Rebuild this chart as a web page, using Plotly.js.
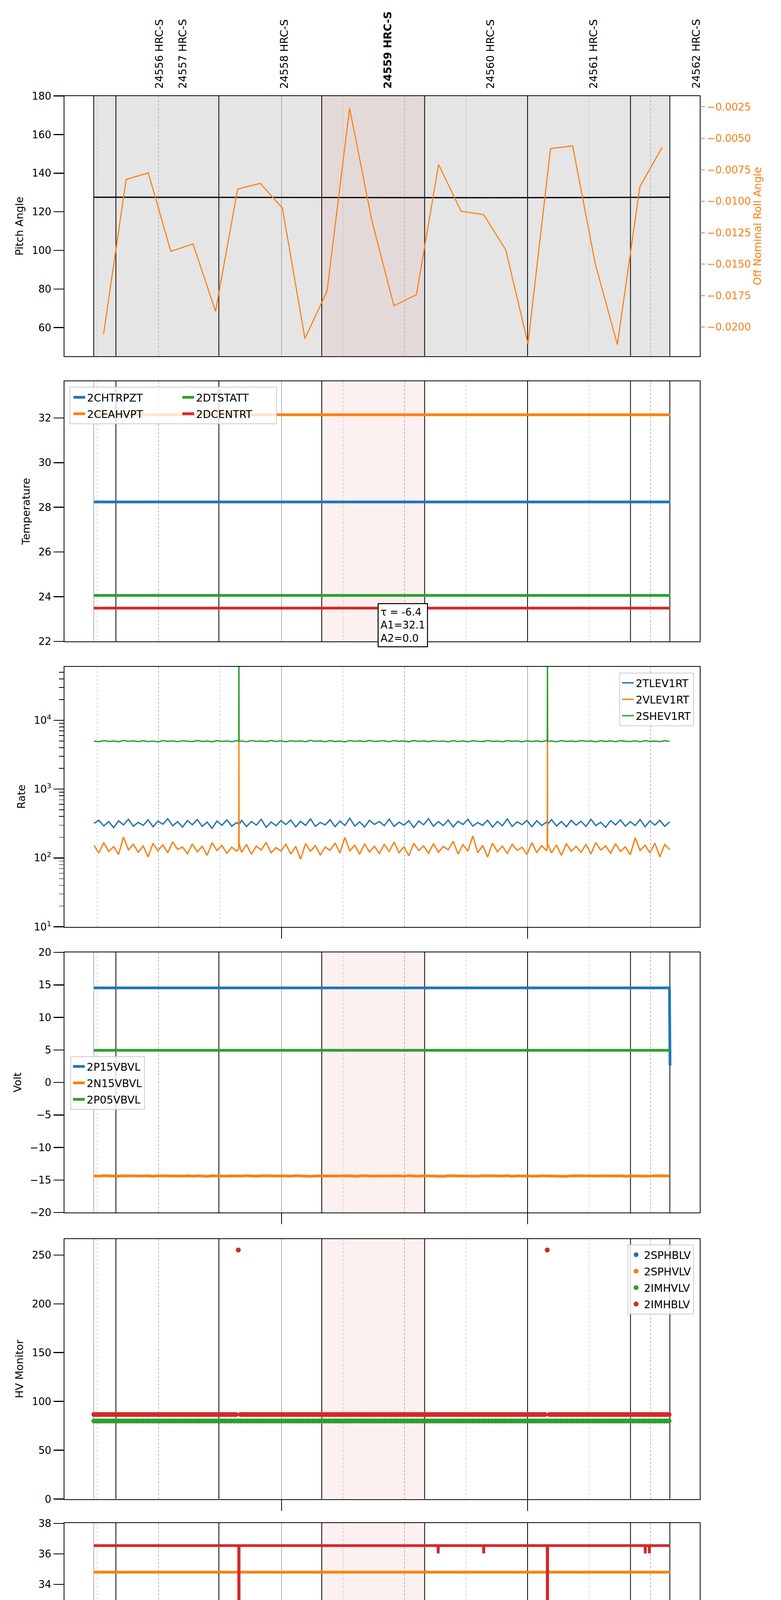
<!DOCTYPE html>
<html>
<head>
<meta charset="utf-8">
<script src="https://cdn.plot.ly/plotly-3.0.1.min.js"></script>
<style>html,body{margin:0;padding:0;background:#fff}#chart{width:2000px;height:5400px}</style>
</head>
<body>
<div id="chart"></div>
<script>
// All times are minutes after 2021-09-09 02:00:00
const obsLabels = ['24556 HRC-S','24557 HRC-S','24558 HRC-S','<b>24559 HRC-S</b>','24560 HRC-S','24561 HRC-S','24562 HRC-S'];
const obsLabelMin = [30.1, 35.8, 60.6, 85.8, 110.9, 136.0, 161.0];
const obsBoundaryMin = [19.6, 44.7, 69.8, 94.9, 120.0, 145.1, 154.7];
const dataStartMin = 14.2;
const highlightMin = [69.8, 94.9];
const minorTickMin = [15, 30, 45, 75, 90, 105, 135, 150];
const minorTickText = ['15', '30', '45', '15', '30', '45', '15', '30'];
const hourTickMin = [60, 120];
const hourTickText = ['03h', '04h'];
const xRangeMin = [7, 162];

// Panel 1: pitch / off-nominal roll
const pitchMin = [14.2, 34.9, 60.0, 85.0, 110.0, 134.9, 154.7];
const pitchVal = [127.55, 127.5, 127.4, 127.35, 127.3, 127.4, 127.55];
const rollMin = [16.6, 22.1, 27.5, 33.0, 38.4, 43.9, 49.3, 54.8, 60.2, 65.7, 71.1, 76.6, 82.0,
                 87.4, 92.9, 98.3, 103.8, 109.3, 114.7, 120.1, 125.6, 131.0, 136.5, 141.9, 147.4, 152.8];
const rollVal = [-0.02054, -0.00827, -0.00775, -0.01399, -0.01339, -0.01875, -0.00903, -0.00858, -0.01054,
                 -0.02092, -0.01714, -0.00261, -0.01150, -0.01831, -0.01743, -0.00709, -0.01080, -0.01107,
                 -0.01388, -0.02133, -0.00582, -0.00561, -0.01497, -0.02139, -0.00884, -0.00573];

// Panel 2: temperatures (constant)
const tempMin = [14.2, 154.75];
const tChtrpzt = [28.24, 28.24];
const tCeahvpt = [32.14, 32.14];
const tDtstatt = [24.06, 24.06];
const tDcentrt = [23.49, 23.49];

// Sample times for rate / volt series
const sampleMin = [
14.25,15.45,16.65,17.85,19.05,20.25,21.45,22.65,23.85,25.05,
26.25,27.45,28.65,29.85,31.05,32.25,33.45,34.65,35.85,37.05,
38.25,39.45,40.65,41.85,43.05,44.25,45.45,46.65,47.85,49.05,
49.55,49.6,49.65,
50.25,51.45,52.65,53.85,55.05,56.25,57.45,58.65,59.85,
61.05,62.25,63.45,64.65,65.85,67.05,68.25,69.45,70.65,71.85,
73.05,74.25,75.45,76.65,77.85,79.05,80.25,81.45,82.65,83.85,
85.05,86.25,87.45,88.65,89.85,91.05,92.25,93.45,94.65,95.85,
97.05,98.25,99.45,100.65,101.85,103.05,104.25,105.45,106.65,107.85,
109.05,110.25,111.45,112.65,113.85,115.05,116.25,117.45,118.65,119.85,
121.05,122.25,123.45,124.65,
124.8,124.85,124.9,
125.85,127.05,128.25,129.45,130.65,131.85,
133.05,134.25,135.45,136.65,137.85,139.05,140.25,141.45,142.65,143.85,
145.05,146.25,147.45,148.65,149.85,151.05,152.25,153.45,154.65];

// Panel 3: rates
const rTlev1rt = [
318,352,291,338,276,346,302,365,288,329,
297,358,284,342,309,371,293,336,281,349,
303,362,287,331,269,344,298,357,290,326,
312,318,305,
351,286,339,300,364,279,333,294,348,
306,355,283,340,297,369,288,328,302,359,
285,343,296,377,291,335,281,352,307,338,
294,366,287,331,299,348,276,344,303,372,
289,337,295,356,282,341,306,363,290,327,
298,354,280,339,293,368,286,334,305,350,
284,347,296,333,
315,322,308,
360,291,338,283,353,299,
341,287,364,295,330,278,349,302,357,289,
336,296,361,284,345,300,352,288,334];
const rVlev1rt = [
152,118,167,124,146,112,201,131,158,121,
149,104,163,127,155,119,171,133,144,115,
160,122,148,109,166,128,152,117,143,126,
135,4950,162,
121,157,113,149,130,168,119,141,126,
158,114,147,96,162,125,151,111,144,129,
165,118,198,127,153,113,160,122,148,116,
157,124,170,119,145,108,163,128,150,117,
161,121,147,131,175,114,156,126,208,119,
152,103,164,123,149,116,158,129,143,112,
166,120,151,127,
141,4950,160,
118,155,109,162,125,147,
121,158,114,167,130,150,117,161,124,145,
111,196,128,153,119,164,104,157,132];
const rShev1rt = [
4980,4890,5060,4920,5010,4870,5090,4940,5030,4900,
5050,4910,4990,4860,5070,4930,5020,4880,5040,4950,
4900,5080,4920,5000,4870,5060,4940,5010,4890,5050,
4960,150000,4930,
5020,4880,5070,4940,5000,4900,5080,4920,5040,
4870,5050,4930,5010,4890,5100,4950,5020,4880,5060,
4920,5000,4870,5070,4940,5030,4900,5090,4930,4990,
5040,4880,5060,4950,5010,4870,5080,4920,5030,4900,
5050,4940,4990,4860,5070,4910,5020,4890,5040,4960,
4900,5080,4930,5000,4880,5060,4950,5010,4870,5050,
4920,5030,4890,5070,
4940,150000,4910,
5020,4880,5060,4930,5000,4900,
5080,4940,5010,4870,5050,4920,5030,4890,5060,4950,
4910,5040,4880,5070,4930,5000,4900,5060,4940];
const rateTickVals = [10, 100, 1000, 10000];
const rateTickText = ['10<sup>1</sup>', '10<sup>2</sup>', '10<sup>3</sup>', '10<sup>4</sup>'];

// Panel 4: voltages
const vP15Min = [14.2, 154.6, 154.75];
const vP15Val = [14.54, 14.54, 2.6];
const vP05Min = [14.2, 154.75];
const vP05Val = [4.94, 4.94];
const vN15Val = [
-14.36,-14.41,-14.34,-14.39,-14.37,-14.42,-14.35,-14.38,-14.40,-14.34,
-14.39,-14.36,-14.43,-14.35,-14.38,-14.41,-14.34,-14.37,-14.40,-14.36,
-14.42,-14.35,-14.38,-14.44,-14.36,-14.39,-14.34,-14.41,-14.37,-14.40,
-14.36,-14.38,-14.35,
-14.40,-14.34,-14.39,-14.42,-14.36,-14.38,-14.43,-14.35,-14.39,
-14.37,-14.41,-14.34,-14.40,-14.36,-14.44,-14.38,-14.35,-14.42,-14.37,
-14.39,-14.35,-14.41,-14.36,-14.43,-14.37,-14.34,-14.40,-14.38,-14.36,
-14.42,-14.35,-14.39,-14.37,-14.41,-14.34,-14.38,-14.43,-14.36,-14.40,
-14.35,-14.39,-14.44,-14.36,-14.38,-14.41,-14.34,-14.40,-14.37,-14.42,
-14.36,-14.39,-14.35,-14.41,-14.38,-14.34,-14.43,-14.37,-14.40,-14.36,
-14.39,-14.42,-14.35,-14.38,
-14.37,-14.40,-14.36,
-14.41,-14.35,-14.39,-14.44,-14.36,-14.38,
-14.40,-14.34,-14.42,-14.37,-14.39,-14.35,-14.41,-14.38,-14.36,-14.43,
-14.37,-14.40,-14.35,-14.39,-14.42,-14.36,-14.38,-14.41,-14.37];

// Panel 5: HV monitor (dots), sampled every ~33 s
const hvMin = [
14.25,14.8,15.35,15.9,16.45,17,17.55,18.1,18.65,19.2,
19.75,20.3,20.85,21.4,21.95,22.5,23.05,23.6,24.15,24.7,
25.25,25.8,26.35,26.9,27.45,28,28.55,29.1,29.65,30.2,
30.75,31.3,31.85,32.4,32.95,33.5,34.05,34.6,35.15,35.7,
36.25,36.8,37.35,37.9,38.45,39,39.55,40.1,40.65,41.2,
41.75,42.3,42.85,43.4,43.95,44.5,45.05,45.6,46.15,46.7,
47.25,47.8,48.35,48.9,49.45,50,50.55,51.1,51.65,52.2,
52.75,53.3,53.85,54.4,54.95,55.5,56.05,56.6,57.15,57.7,
58.25,58.8,59.35,59.9,60.45,61,61.55,62.1,62.65,63.2,
63.75,64.3,64.85,65.4,65.95,66.5,67.05,67.6,68.15,68.7,
69.25,69.8,70.35,70.9,71.45,72,72.55,73.1,73.65,74.2,
74.75,75.3,75.85,76.4,76.95,77.5,78.05,78.6,79.15,79.7,
80.25,80.8,81.35,81.9,82.45,83,83.55,84.1,84.65,85.2,
85.75,86.3,86.85,87.4,87.95,88.5,89.05,89.6,90.15,90.7,
91.25,91.8,92.35,92.9,93.45,94,94.55,95.1,95.65,96.2,
96.75,97.3,97.85,98.4,98.95,99.5,100.05,100.6,101.15,101.7,
102.25,102.8,103.35,103.9,104.45,105,105.55,106.1,106.65,107.2,
107.75,108.3,108.85,109.4,109.95,110.5,111.05,111.6,112.15,112.7,
113.25,113.8,114.35,114.9,115.45,116,116.55,117.1,117.65,118.2,
118.75,119.3,119.85,120.4,120.95,121.5,122.05,122.6,123.15,123.7,
124.25,124.8,125.35,125.9,126.45,127,127.55,128.1,128.65,129.2,
129.75,130.3,130.85,131.4,131.95,132.5,133.05,133.6,134.15,134.7,
135.25,135.8,136.35,136.9,137.45,138,138.55,139.1,139.65,140.2,
140.75,141.3,141.85,142.4,142.95,143.5,144.05,144.6,145.15,145.7,
146.25,146.8,147.35,147.9,148.45,149,149.55,150.1,150.65,151.2,
151.75,152.3,152.85,153.4,153.95,154.5];
const hvImhvlv = [
80,80,80,80,80,80,80,80,80,80, 80,80,80,80,80,80,80,80,80,80,
80,80,80,80,80,80,80,80,80,80, 80,80,80,80,80,80,80,80,80,80,
80,80,80,80,80,80,80,80,80,80, 80,80,80,80,80,80,80,80,80,80,
80,80,80,80,80,80,80,80,80,80, 80,80,80,80,80,80,80,80,80,80,
80,80,80,80,80,80,80,80,80,80, 80,80,80,80,80,80,80,80,80,80,
80,80,80,80,80,80,80,80,80,80, 80,80,80,80,80,80,80,80,80,80,
80,80,80,80,80,80,80,80,80,80, 80,80,80,80,80,80,80,80,80,80,
80,80,80,80,80,80,80,80,80,80, 80,80,80,80,80,80,80,80,80,80,
80,80,80,80,80,80,80,80,80,80, 80,80,80,80,80,80,80,80,80,80,
80,80,80,80,80,80,80,80,80,80, 80,80,80,80,80,80,80,80,80,80,
80,80,80,80,80,80,80,80,80,80, 80,80,80,80,80,80,80,80,80,80,
80,80,80,80,80,80,80,80,80,80, 80,80,80,80,80,80,80,80,80,80,
80,80,80,80,80,80,80,80,80,80,
80,80,80,80,80,80];
const hvImhblv = [
86.6,86.6,86.6,86.6,86.6,86.6,86.6,86.6,86.6,86.6, 86.6,86.6,86.6,86.6,86.6,86.6,86.6,86.6,86.6,86.6,
86.6,86.6,86.6,86.6,86.6,86.6,86.6,86.6,86.6,86.6, 86.6,86.6,86.6,86.6,86.6,86.6,86.6,86.6,86.6,86.6,
86.6,86.6,86.6,86.6,86.6,86.6,86.6,86.6,86.6,86.6, 86.6,86.6,86.6,86.6,86.6,86.6,86.6,86.6,86.6,86.6,
86.6,86.6,86.6,86.6,255.1,86.6,86.6,86.6,86.6,86.6, 86.6,86.6,86.6,86.6,86.6,86.6,86.6,86.6,86.6,86.6,
86.6,86.6,86.6,86.6,86.6,86.6,86.6,86.6,86.6,86.6, 86.6,86.6,86.6,86.6,86.6,86.6,86.6,86.6,86.6,86.6,
86.6,86.6,86.6,86.6,86.6,86.6,86.6,86.6,86.6,86.6, 86.6,86.6,86.6,86.6,86.6,86.6,86.6,86.6,86.6,86.6,
86.6,86.6,86.6,86.6,86.6,86.6,86.6,86.6,86.6,86.6, 86.6,86.6,86.6,86.6,86.6,86.6,86.6,86.6,86.6,86.6,
86.6,86.6,86.6,86.6,86.6,86.6,86.6,86.6,86.6,86.6, 86.6,86.6,86.6,86.6,86.6,86.6,86.6,86.6,86.6,86.6,
86.6,86.6,86.6,86.6,86.6,86.6,86.6,86.6,86.6,86.6, 86.6,86.6,86.6,86.6,86.6,86.6,86.6,86.6,86.6,86.6,
86.6,86.6,86.6,86.6,86.6,86.6,86.6,86.6,86.6,86.6, 86.6,86.6,86.6,86.6,86.6,86.6,86.6,86.6,86.6,86.6,
86.6,255.1,86.6,86.6,86.6,86.6,86.6,86.6,86.6,86.6, 86.6,86.6,86.6,86.6,86.6,86.6,86.6,86.6,86.6,86.6,
86.6,86.6,86.6,86.6,86.6,86.6,86.6,86.6,86.6,86.6, 86.6,86.6,86.6,86.6,86.6,86.6,86.6,86.6,86.6,86.6,
86.6,86.6,86.6,86.6,86.6,86.6,86.6,86.6,86.6,86.6,
86.6,86.6,86.6,86.6,86.6,86.6];

// Panel 6: detector temperatures
const detConstMin = [14.2, 154.75];
const dSphvatm = [34.8, 34.8];
const dIminatm = [23.14, 23.14];
const dSpinatmMin = [14.2, 33.45,33.5,33.55, 51.1,51.15,51.2, 75.55,75.6,75.65, 104.95,105.0,105.05,
                     110.35,110.4,110.45, 118.35,118.4,118.45, 119.35,119.4,119.45, 154.75];
const dSpinatm = [22.43, 22.43,21.63,22.43, 22.43,21.63,22.43, 22.43,21.63,22.43, 22.43,21.63,22.43,
                  22.43,21.63,22.43, 22.43,21.63,22.43, 22.43,21.63,22.43, 22.43];
const dImhvatmMin = [14.2, 49.55,49.6,49.65, 98.15,98.2,98.25, 109.25,109.3,109.35, 124.8,124.85,124.9,
                     148.65,148.7,148.75, 149.65,149.7,149.75, 154.75];
const dImhvatm = [36.55, 36.55,0,36.55, 36.55,36.04,36.55, 36.55,36.04,36.55, 36.55,0,36.55,
                  36.55,36.04,36.55, 36.55,36.04,36.55, 36.55];

// Panel 7: FEA temperatures
const feaConstMin = [14.2, 154.75];
const fFhtrmzt = [26.39, 26.39];
const fFradpyt = [21.8, 21.8];
const fFepratmMin = [14.2, 49.55,49.6,49.65, 124.8,124.85,124.9, 154.75];
const fFepratm = [27.76, 27.76,0,27.76, 27.76,0,27.76, 27.76];
const fFe00atmMin = [14.2, 20.19,20.24,20.29, 45.05,45.1,45.15, 48.45,48.5,48.55, 49.55,49.6,49.65,
  54.98,55.03,55.08, 58.13,58.18,58.23, 59.47,59.52,59.57, 69.4,69.45,69.5, 79.25,79.3,79.35,
  93.75,93.8,93.85, 95.35,95.4,95.45, 98.15,98.2,98.25, 100.75,100.8,100.85, 124.8,124.85,124.9,
  125.25,125.3,125.35, 128.75,128.8,128.85, 129.75,129.8,129.85, 132.95,133.0,133.05,
  137.55,137.6,137.65, 139.35,139.4,139.45, 142.15,142.2,142.25, 154.15,154.2,154.25, 154.75];
const fFe00atm = [25.29, 25.29,25.66,25.29, 25.29,26.0,25.29, 25.29,26.0,25.29, 25.29,0,25.29,
  25.29,24.23,25.29, 25.29,26.0,25.29, 25.29,24.9,25.29, 25.29,25.66,25.29, 25.29,24.56,25.29,
  25.29,24.23,25.29, 25.29,25.66,25.29, 25.29,24.9,25.29, 25.29,24.23,25.29, 25.29,0,25.29,
  25.29,26.35,25.29, 25.29,25.66,25.29, 25.29,24.9,25.29, 25.29,26.0,25.29,
  25.29,26.0,25.29, 25.29,26.35,25.29, 25.29,24.56,25.29, 25.29,25.66,25.29, 25.29];

// ---------------------------------------------------------------
const T = m => new Date(Date.UTC(2021, 8, 9, 2, 0, 0) + Math.round(m * 60000)).toISOString().replace('T', ' ').slice(0, 23);
const TT = arr => arr.map(T);

const W = 2000, H = 5400;
const plotL = 164.5, plotR = 1792, panelH = 666;
const panelTops = [245.7, 976, 1706.5, 2438, 3171.6, 3899, 4629];
const ydom = top => [1 - (top + panelH) / H, 1 - top / H];
const C = {blue: '#1f77b4', orange: '#ff7f0e', green: '#2ca02c', red: '#d62728'};
const FONT = 'DejaVu Sans';

const traces = [];
// Panel 1
traces.push({x: TT(pitchMin), y: pitchVal, xaxis: 'x', yaxis: 'y', mode: 'lines', line: {color: 'black', width: 3.2}, showlegend: false});
traces.push({x: TT(rollMin), y: rollVal, xaxis: 'x', yaxis: 'y8', mode: 'lines', line: {color: C.orange, width: 2.8}, showlegend: false});
const lineTrace = (name, xs, ys, color, xa, ya, legend, width) => ({
  name, x: TT(xs), y: ys, xaxis: xa, yaxis: ya, mode: 'lines',
  line: {color, width}, legend, legendgroup: name});
// Panel 2
traces.push(lineTrace('2CHTRPZT', tempMin, tChtrpzt, C.blue, 'x2', 'y2', 'legend', 7));
traces.push(lineTrace('2CEAHVPT', tempMin, tCeahvpt, C.orange, 'x2', 'y2', 'legend', 7));
traces.push(lineTrace('2DTSTATT', tempMin, tDtstatt, C.green, 'x2', 'y2', 'legend2', 7));
traces.push(lineTrace('2DCENTRT', tempMin, tDcentrt, C.red, 'x2', 'y2', 'legend2', 7));
// Panel 3
traces.push(lineTrace('2TLEV1RT', sampleMin, rTlev1rt, C.blue, 'x3', 'y3', 'legend3', 3.4));
traces.push(lineTrace('2VLEV1RT', sampleMin, rVlev1rt, C.orange, 'x3', 'y3', 'legend3', 3.4));
traces.push(lineTrace('2SHEV1RT', sampleMin, rShev1rt, C.green, 'x3', 'y3', 'legend3', 3.4));
// Panel 4
traces.push(lineTrace('2P15VBVL', vP15Min, vP15Val, C.blue, 'x4', 'y4', 'legend4', 7));
traces.push(lineTrace('2N15VBVL', sampleMin, vN15Val, C.orange, 'x4', 'y4', 'legend4', 7));
traces.push(lineTrace('2P05VBVL', vP05Min, vP05Val, C.green, 'x4', 'y4', 'legend4', 7));
// Panel 5
const dotTrace = (name, ys, color) => ({
  name, x: TT(hvMin), y: ys, xaxis: 'x5', yaxis: 'y5', mode: 'markers',
  marker: {color, size: 12.5}, legend: 'legend5', legendgroup: name});
traces.push(dotTrace('2SPHBLV', hvImhvlv, C.blue));
traces.push(dotTrace('2SPHVLV', hvImhblv, C.orange));
traces.push(dotTrace('2IMHVLV', hvImhvlv, C.green));
traces.push(dotTrace('2IMHBLV', hvImhblv, C.red));
// Panel 6
traces.push(lineTrace('2SPINATM', dSpinatmMin, dSpinatm, C.blue, 'x6', 'y6', 'legend6', 7));
traces.push(lineTrace('2SPHVATM', detConstMin, dSphvatm, C.orange, 'x6', 'y6', 'legend6', 7));
traces.push(lineTrace('2IMINATM', detConstMin, dIminatm, C.green, 'x6', 'y6', 'legend6', 7));
traces.push(lineTrace('2IMHVATM', dImhvatmMin, dImhvatm, C.red, 'x6', 'y6', 'legend6', 7));
// Panel 7 (last trace sits on the overlaying minute-label axis, same range)
traces.push(lineTrace('2FHTRMZT', feaConstMin, fFhtrmzt, C.blue, 'x7', 'y7', 'legend7', 7));
traces.push(lineTrace('2FRADPYT', feaConstMin, fFradpyt, C.orange, 'x7', 'y7', 'legend7', 7));
traces.push(lineTrace('2FEPRATM', fFepratmMin, fFepratm, C.green, 'x7', 'y7', 'legend7', 7));
traces.push(lineTrace('2FE00ATM', fFe00atmMin, fFe00atm, C.red, 'x8', 'y7', 'legend7', 7));

const layout = {
  width: W, height: H,
  margin: {l: 0, r: 0, t: 0, b: 0},
  paper_bgcolor: 'white', plot_bgcolor: 'white',
  font: {family: FONT, size: 26, color: 'black'},
  showlegend: true,
  shapes: [], annotations: []
};

const yCfg = [
  {title: 'Pitch Angle', range: [45.2, 180], tickvals: [60, 80, 100, 120, 140, 160, 180]},
  {title: 'Temperature', range: [22, 33.64], tickvals: [22, 24, 26, 28, 30, 32]},
  {title: 'Rate', type: 'log', range: [1, 4.78], tickvals: rateTickVals, ticktext: rateTickText},
  {title: 'Volt', range: [-20, 20], tickvals: [-20, -15, -10, -5, 0, 5, 10, 15, 20]},
  {title: 'HV Monitor', range: [0, 266.5], tickvals: [0, 50, 100, 150, 200, 250]},
  {title: 'Detector Temp', range: [20.94, 38.03], tickvals: [22, 24, 26, 28, 30, 32, 34, 36, 38]},
  {title: 'FEA Temp', range: [20.3, 29.26], tickvals: [21, 22, 23, 24, 25, 26, 27, 28, 29]}
];
const logMinor = [20,30,40,50,60,70,80,90,200,300,400,500,600,700,800,900,2000,3000,4000,5000,6000,7000,8000,9000,20000,30000,40000,50000];

for (let i = 1; i <= 7; i++) {
  const xa = {
    type: 'date', domain: [plotL / W, plotR / W], anchor: 'y' + i,
    range: [T(xRangeMin[0]), T(xRangeMin[1])], fixedrange: true,
    showline: true, mirror: true, linecolor: 'black', linewidth: 2,
    tickmode: 'array', tickvals: TT(hourTickMin), ticktext: hourTickText,
    ticks: i >= 3 ? 'outside' : '', ticklen: 28, tickwidth: 2.5, tickcolor: 'black',
    showticklabels: i === 7, tickfont: {size: 27},
    showgrid: true, gridcolor: '#b0b0b0', gridwidth: 1.5, zeroline: false,
    minor: {tickmode: 'array', tickvals: TT(minorTickMin), ticks: '', showgrid: true,
            gridcolor: '#b8b8b8', gridwidth: 1.3, griddash: '6px,4px'}
  };
  if (i === 7) xa.title = {text: '2021-09-09 (252)', font: {size: 33}, standoff: 6};
  layout[i === 1 ? 'xaxis' : 'xaxis' + i] = xa;
  const c = yCfg[i - 1];
  const ya = {
    domain: ydom(panelTops[i - 1]), anchor: 'x' + i, range: c.range, fixedrange: true,
    type: c.type || 'linear',
    showline: true, mirror: true, linecolor: 'black', linewidth: 2,
    tickmode: 'array', tickvals: c.tickvals, ticks: 'outside', ticklen: 26, tickwidth: 2.5, tickcolor: 'black',
    tickfont: {size: 26}, showgrid: false, zeroline: false,
    title: {text: c.title, font: {size: 27}, standoff: 14}
  };
  if (c.ticktext) ya.ticktext = c.ticktext;
  if (c.type === 'log') {
    ya.minor = {tickmode: 'array', tickvals: logMinor, ticks: 'outside', ticklen: 12, tickwidth: 1.5, tickcolor: 'black', showgrid: false};
  }
  layout[i === 1 ? 'yaxis' : 'yaxis' + i] = ya;
}
// Right axis for roll angle
layout.yaxis8 = {
  overlaying: 'y', side: 'right', anchor: 'x', range: [-0.02231, -0.00164], fixedrange: true,
  tickmode: 'array', tickvals: [-0.02, -0.0175, -0.015, -0.0125, -0.01, -0.0075, -0.005, -0.0025],
  tickformat: '.4f', ticks: 'outside', ticklen: 12, tickwidth: 2, tickcolor: C.orange,
  tickfont: {size: 26, color: C.orange}, showline: false, showgrid: false, zeroline: false,
  title: {text: 'Off Nominal Roll Angle', font: {size: 27, color: C.orange}, standoff: 8}
};
// Minute labels on the bottom axis
layout.xaxis8 = {
  type: 'date', overlaying: 'x7', anchor: 'y7', side: 'bottom',
  range: [T(xRangeMin[0]), T(xRangeMin[1])], fixedrange: true,
  tickmode: 'array', tickvals: TT(minorTickMin), ticktext: minorTickText,
  ticks: '', tickfont: {size: 18}, showline: false, showgrid: false, zeroline: false
};

// Background shading and observation boundaries (shapes in each panel's own data coordinates)
const xr = i => (i === 1 ? 'x' : 'x' + i);
const yr = i => (i === 1 ? 'y' : 'y' + i);
const yLo = i => yCfg[i - 1].range[0], yHi = i => yCfg[i - 1].range[1];
layout.shapes.push({type: 'rect', xref: 'x', yref: 'y', x0: T(dataStartMin), x1: T(obsBoundaryMin[obsBoundaryMin.length - 1]),
  y0: yLo(1), y1: yHi(1), fillcolor: '#e5e5e5', line: {width: 0}, layer: 'below'});
for (let i = 1; i <= 7; i++) {
  layout.shapes.push({type: 'rect', xref: xr(i), yref: yr(i), x0: T(highlightMin[0]), x1: T(highlightMin[1]),
    y0: yLo(i), y1: yHi(i), fillcolor: i === 1 ? '#e4d9d9' : '#fdf0f0', line: {width: 0}, layer: 'below'});
  layout.shapes.push({type: 'line', xref: xr(i), yref: yr(i), x0: T(dataStartMin), x1: T(dataStartMin), y0: yLo(i), y1: yHi(i),
    line: {color: i === 1 ? 'black' : '#666666', width: i === 1 ? 2 : 1}, layer: 'between'});
  obsBoundaryMin.forEach(b => layout.shapes.push({type: 'line', xref: xr(i), yref: yr(i), x0: T(b), x1: T(b), y0: yLo(i), y1: yHi(i),
    line: {color: 'black', width: 2}, layer: 'between'}));
}
// Frame for the two-column temperature legend
layout.shapes.push({type: 'rect', xref: 'paper', yref: 'paper', x0: 179 / W, x1: 708 / W, y0: 1 - 1085 / H, y1: 1 - 991 / H,
  fillcolor: 'rgba(255,255,255,0.8)', line: {color: '#cccccc', width: 2}, layer: 'above'});

// Observation labels
obsLabels.forEach((t, k) => layout.annotations.push({
  text: t, x: T(obsLabelMin[k]), xref: 'x', y: 1 - 229 / H, yref: 'paper', xanchor: 'center', yanchor: 'bottom',
  textangle: -90, showarrow: false, font: {size: 27, color: 'black'}
}));
// Fit annotation
layout.annotations.push({
  text: 'τ = -6.4<br>A1=32.1<br>A2=0.0', xref: 'paper', yref: 'paper', x: 967 / W, y: 1 - 1544 / H,
  xanchor: 'left', yanchor: 'top', align: 'left', showarrow: false, font: {size: 26, color: 'black'},
  bgcolor: 'white', bordercolor: 'black', borderwidth: 2.5, borderpad: 5
});

// Legends
const legBox = {bgcolor: 'rgba(255,255,255,0.8)', bordercolor: '#cccccc', borderwidth: 2, font: {size: 27}, tracegroupgap: 4};
layout.legend = {x: 183 / W, y: 1 - 993 / H, xanchor: 'left', yanchor: 'top', bgcolor: 'rgba(0,0,0,0)', borderwidth: 0, font: {size: 27}, tracegroupgap: 4};
layout.legend2 = {x: 462 / W, y: 1 - 993 / H, xanchor: 'left', yanchor: 'top', bgcolor: 'rgba(0,0,0,0)', borderwidth: 0, font: {size: 27}, tracegroupgap: 4};
layout.legend3 = Object.assign({x: 1777 / W, y: 1 - 1722 / H, xanchor: 'right', yanchor: 'top'}, legBox);
layout.legend4 = Object.assign({x: 180 / W, y: 1 - 2704 / H, xanchor: 'left', yanchor: 'top'}, legBox);
layout.legend5 = Object.assign({x: 1777 / W, y: 1 - 3186 / H, xanchor: 'right', yanchor: 'top'}, legBox);
layout.legend6 = Object.assign({x: 1777 / W, y: 1 - 4143 / H, xanchor: 'right', yanchor: 'top'}, legBox);
layout.legend7 = Object.assign({x: 180 / W, y: 1 - 5103 / H, xanchor: 'left', yanchor: 'top'}, legBox);

Plotly.newPlot('chart', traces, layout, {staticPlot: true, displayModeBar: false});
</script>
</body>
</html>
